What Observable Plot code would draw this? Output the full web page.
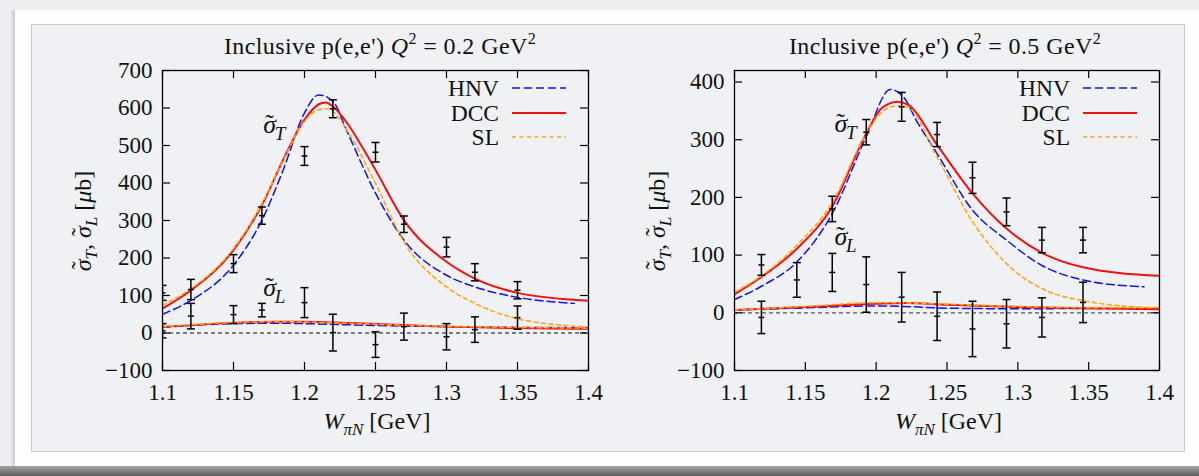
<!DOCTYPE html>
<html><head><meta charset="utf-8">
<script src="https://cdn.jsdelivr.net/npm/d3@7"></script>
<script src="https://cdn.jsdelivr.net/npm/@observablehq/plot@0.6"></script>
<style>
html,body{margin:0;padding:0;}
body{width:1199px;height:476px;background:#eeeff2;position:relative;overflow:hidden;font-family:"Liberation Serif",serif;color:#111;}
.abs{position:absolute;}
.title{font-size:24px;letter-spacing:0.4px;white-space:nowrap;transform:translate(-50%,-50%);}
.title sup{font-size:16px;vertical-align:0;position:relative;top:-10px;}
.ylab{font-size:24px;white-space:nowrap;transform:translate(-50%,-50%) rotate(-90deg);}
.xlab{font-size:24px;white-space:nowrap;transform:translate(-50%,-50%);}
sub{font-size:17px;vertical-align:0;position:relative;top:6px;}
.sig{position:relative;display:inline-block;}
.sig .tl{position:absolute;left:2px;top:-3px;font-style:normal;}
.leg{font-size:23.5px;white-space:nowrap;transform:translate(-100%,-50%);}
</style></head><body>
<div class="abs" style="left:10px;top:10px;width:6px;height:457px;background:linear-gradient(to right,#eeeff2,#c4c4c8)"></div>
<div class="abs" style="left:15px;top:10px;width:1184px;height:457px;background:#fdfdfd"></div>
<div class="abs" style="left:31px;top:24px;width:1152px;height:426px;background:#eff1f5;border:1px solid #c8c9cd"></div>
<div class="abs" style="left:0;top:466px;width:1199px;height:10px;background:linear-gradient(#a4a4a4,#5e5e5e)"></div>
<div id="root"></div>
<script>
// ---------- shared axis values ----------
const xTickValues = [1.1, 1.15, 1.2, 1.25, 1.3, 1.35, 1.4];
const xTickLabels = ["1.1", "1.15", "1.2", "1.25", "1.3", "1.35", "1.4"];
const yTicks02 = [-100, 0, 100, 200, 300, 400, 500, 600, 700];
const yTicks05 = [-100, 0, 100, 200, 300, 400];
const seriesNames = ["HNV", "DCC", "SL"];

// ---------- Q^2 = 0.2 data ----------
const W_02 = [1.10, 1.12, 1.15, 1.17, 1.20, 1.22, 1.25, 1.27, 1.30, 1.32, 1.35];
const sigT_02 = [107, 116, 185, 313, 472, 598, 482, 290, 229, 162, 114];
const errT_02 = [20, 27, 24, 23, 25, 24, 26, 22, 26, 23, 23];
const sigL_02 = [6, 45, 49, 61, 81, 1, -31, 17, -10, 9, 41];
const errL_02 = [19, 34, 24, 18, 40, 49, 34, 36, 35, 34, 31];

const W_DCC_T_02 = [1.10, 1.12, 1.15, 1.17, 1.185, 1.20, 1.21, 1.215, 1.22, 1.23, 1.24, 1.25, 1.27, 1.30, 1.32, 1.35, 1.40];
const DCC_T_02 = [65, 114, 221, 341, 462, 569, 610, 615, 604, 560, 500, 435, 301, 190, 145, 107, 86];
const W_HNV_T_02 = [1.10, 1.12, 1.15, 1.17, 1.185, 1.20, 1.21, 1.22, 1.23, 1.25, 1.27, 1.30, 1.32, 1.35, 1.39];
const HNV_T_02 = [50, 87, 181, 301, 435, 587, 635, 618, 537, 373, 248, 154, 123, 95, 79];
const W_SL_T_02 = [1.10, 1.12, 1.15, 1.17, 1.185, 1.20, 1.21, 1.215, 1.22, 1.23, 1.25, 1.27, 1.30, 1.32, 1.35, 1.40];
const SL_T_02 = [74, 118, 225, 345, 460, 565, 595, 598, 591, 540, 399, 243, 123, 79, 38, 16];
const W_L_curve_02 = [1.10, 1.15, 1.18, 1.20, 1.22, 1.25, 1.30, 1.35, 1.40];
const DCC_L_02 = [16, 27, 30, 30, 28, 24, 17, 13, 11];
const HNV_L_02 = [15, 25, 26, 25, 23, 20, 17, 15, 14];
const SL_L_02 = [17, 28, 30, 29, 27, 23, 18, 15, 13];

// ---------- Q^2 = 0.5 data ----------
const W_T_05 = [1.119, 1.169, 1.193, 1.218, 1.243, 1.268, 1.292, 1.317, 1.346];
const sigT_05 = [83, 180, 313, 357, 309, 234, 175, 126, 126];
const errT_05 = [18, 22, 22, 25, 21, 27, 24, 22, 22];
const W_L_05 = [1.119, 1.144, 1.169, 1.193, 1.218, 1.243, 1.268, 1.292, 1.317, 1.346];
const sigL_05 = [-8, 57, 70, 49, 27, -6, -28, -19, -8, 18];
const errL_05 = [28, 30, 33, 48, 43, 42, 48, 42, 34, 35];

const W_DCC_T_05 = [1.10, 1.119, 1.144, 1.169, 1.193, 1.204, 1.215, 1.223, 1.243, 1.268, 1.292, 1.317, 1.346, 1.40];
const DCC_T_05 = [32, 62, 111, 184, 311, 355, 366, 360, 291, 207, 146, 104, 79, 64];
const W_HNV_T_05 = [1.10, 1.119, 1.144, 1.169, 1.193, 1.21, 1.22, 1.228, 1.243, 1.268, 1.292, 1.317, 1.346, 1.389];
const HNV_T_05 = [23, 46, 88, 172, 305, 387, 372, 335, 276, 178, 126, 82, 57, 45];
const W_SL_T_05 = [1.10, 1.119, 1.144, 1.169, 1.193, 1.205, 1.215, 1.222, 1.243, 1.268, 1.292, 1.317, 1.346, 1.40];
const SL_T_05 = [36, 64, 117, 191, 311, 350, 359, 357, 270, 158, 85, 42, 21, 8];
const W_L_curve_05 = [1.10, 1.15, 1.20, 1.22, 1.25, 1.30, 1.35, 1.40];
const DCC_L_05 = [5, 10, 15.7, 17, 14, 10, 8, 6];
const HNV_L_05 = [5, 8.5, 12, 11, 8, 7, 7.5, 7];
const SL_L_05 = [5, 11, 17.5, 17, 15, 11, 9, 9];

// annotation labels (σ with tilde, subscript)
const annotText = ["σ_T", "σ_L"];
const annotW_02 = [1.171, 1.171];
const annotY_02 = [556, 121];
const annotW_05 = [1.1705, 1.1705];
const annotY_05 = [327, 132];

// ---------- styles ----------
const styles = {
  HNV: {stroke: "#1010f0", strokeWidth: 1.5, strokeDasharray: "8,4"},
  DCC: {stroke: "#f01010", strokeWidth: 2, strokeDasharray: null},
  SL: {stroke: "#ffa51a", strokeWidth: 1.6, strokeDasharray: "4,3.5"}
};

const zip = (xs, ys) => xs.map((x, i) => ({x, y: ys[i]}));
const pts = (xs, vs, es) => xs.map((x, i) => ({x, v: vs[i], e: es[i]}));
const hbar = (hw) => ({draw(ctx) { ctx.moveTo(-hw, 0); ctx.lineTo(hw, 0); }});
const fmtY = d => d < 0 ? "\u2212" + Math.abs(d) : String(d);
const SVGNS = "http://www.w3.org/2000/svg";
const sigHTML = `<span class="sig"><i>σ</i><span class="tl">˜</span></span>`;

function makePanel(cfg) {
  const W = 500, H = 360, mt = 10, mb = 50;
  const fw = W - cfg.ml - cfg.mr, fh = H - mt - mb;
  const line = (name, data) => Plot.line(data, {x: "x", y: "y", curve: "monotone-x", clip: true, ...styles[name]});
  const errMarks = (data) => [
    Plot.ruleX(data, {x: "x", y1: d => d.v - d.e, y2: d => d.v + d.e, stroke: "#000", strokeWidth: 1.5, clip: true}),
    Plot.dot(data, {x: "x", y: d => d.v - d.e, symbol: hbar(4), fill: "none", stroke: "#000", strokeWidth: 1.5, clip: true}),
    Plot.dot(data, {x: "x", y: d => d.v + d.e, symbol: hbar(4), fill: "none", stroke: "#000", strokeWidth: 1.5, clip: true}),
    Plot.dot(data, {x: "x", y: "v", symbol: hbar(3), fill: "none", stroke: "#000", strokeWidth: 1.5, clip: true})
  ];
  const annots = annotText.map((t, i) => ({t, x: cfg.annotW[i], y: cfg.annotY[i]}));
  const chart = Plot.plot({
    width: W, height: H, marginLeft: cfg.ml, marginRight: cfg.mr, marginTop: mt, marginBottom: mb,
    style: {fontFamily: "Liberation Serif, serif", fontSize: "23px", background: "transparent", overflow: "visible", color: "#111"},
    x: {domain: [1.1, 1.4], ticks: xTickValues, tickFormat: d => xTickLabels[xTickValues.findIndex(v => Math.abs(v - d) < 1e-9)], tickSize: 0, tickPadding: 13, label: null},
    y: {domain: cfg.yDomain, ticks: cfg.yTicks, tickFormat: fmtY, tickSize: 0, tickPadding: 10, label: null},
    marks: [
      Plot.ruleY([0], {stroke: "#555", strokeWidth: 1.3, strokeDasharray: "4,3"}),
      Plot.tickY(cfg.yTicks, {y: d => d, stroke: "#000", strokeWidth: 1.2, insetRight: fw - 8}),
      Plot.tickY(cfg.yTicks, {y: d => d, stroke: "#000", strokeWidth: 1.2, insetLeft: fw - 8}),
      Plot.tickX(xTickValues, {x: d => d, stroke: "#000", strokeWidth: 1.2, insetTop: fh - 8}),
      Plot.tickX(xTickValues, {x: d => d, stroke: "#000", strokeWidth: 1.2, insetBottom: fh - 8}),
      line("HNV", cfg.HNV_T), line("DCC", cfg.DCC_T), line("SL", cfg.SL_T),
      line("HNV", cfg.HNV_L), line("DCC", cfg.DCC_L), line("SL", cfg.SL_L),
      ...errMarks(cfg.ptsT), ...errMarks(cfg.ptsL),
      Plot.text(annots, {x: "x", y: "y", text: "t", textAnchor: "start", fontSize: 26, fontStyle: "italic", fill: "#111"}),
      Plot.frame({stroke: "#000", strokeWidth: 1.3})
    ]
  });
  // tilde + subscript in annotation labels
  chart.querySelectorAll("text").forEach(t => {
    const s = t.textContent;
    if (s.includes("_")) {
      const [a, b] = s.split("_");
      t.textContent = "";
      const t1 = document.createElementNS(SVGNS, "tspan"); t1.textContent = a;
      const t2 = document.createElementNS(SVGNS, "tspan"); t2.textContent = "˜";
      t2.setAttribute("dx", "-11"); t2.setAttribute("dy", "-1"); t2.setAttribute("font-style", "normal");
      const t3 = document.createElementNS(SVGNS, "tspan"); t3.textContent = b;
      t3.setAttribute("dx", "1"); t3.setAttribute("dy", "8"); t3.setAttribute("font-size", "19");
      t.appendChild(t1); t.appendChild(t2); t.appendChild(t3);
    }
  });
  const wrap = document.createElement("div");
  wrap.className = "abs";
  wrap.style.left = cfg.left + "px"; wrap.style.top = "60px";
  wrap.appendChild(chart);
  document.getElementById("root").appendChild(wrap);

  // title, axis labels, legend
  const add = (cls, html, x, y) => {
    const d = document.createElement("div");
    d.className = "abs " + cls; d.innerHTML = html;
    d.style.left = x + "px"; d.style.top = y + "px";
    document.getElementById("root").appendChild(d);
  };
  const fx0 = cfg.left + cfg.ml, fx1 = cfg.left + W - cfg.mr;
  add("title", `Inclusive p(e,e') <i>Q</i><sup>2</sup> = ${cfg.q2} GeV<sup>2</sup>`, cfg.titleX, 46);
  add("ylab", `${sigHTML}<sub><i>T</i></sub>, ${sigHTML}<sub><i>L</i></sub> [<i>μ</i>b]`, cfg.ylabX, 221);
  add("xlab", `<i>W</i><sub><i>πN</i></sub> [GeV]`, (fx0 + fx1) / 2 + 2, 421);
  seriesNames.forEach((n, i) => {
    const y = 88 + i * 24.5;
    add("leg", n, cfg.legTextX, y);
    const st = styles[n];
    const svg = d3.create("svg").attr("width", 56).attr("height", 6)
      .style("position", "absolute").style("left", (cfg.legTextX + 12) + "px").style("top", (y - 3) + "px");
    svg.append("line").attr("x1", 1).attr("x2", 55).attr("y1", 3).attr("y2", 3)
      .attr("stroke", st.stroke).attr("stroke-width", st.strokeWidth).attr("stroke-dasharray", st.strokeDasharray);
    document.getElementById("root").appendChild(svg.node());
  });
}

makePanel({
  left: 100, ml: 62, mr: 12, yDomain: [-100, 700], yTicks: yTicks02, q2: "0.2", titleX: 380, ylabX: 83, legTextX: 499,
  ptsT: pts(W_02, sigT_02, errT_02), ptsL: pts(W_02, sigL_02, errL_02),
  DCC_T: zip(W_DCC_T_02, DCC_T_02), HNV_T: zip(W_HNV_T_02, HNV_T_02), SL_T: zip(W_SL_T_02, SL_T_02),
  DCC_L: zip(W_L_curve_02, DCC_L_02), HNV_L: zip(W_L_curve_02, HNV_L_02), SL_L: zip(W_L_curve_02, SL_L_02),
  annotW: annotW_02, annotY: annotY_02
});
makePanel({
  left: 670, ml: 64, mr: 11, yDomain: [-100, 420], yTicks: yTicks05, q2: "0.5", titleX: 945, ylabX: 657, legTextX: 1070,
  ptsT: pts(W_T_05, sigT_05, errT_05), ptsL: pts(W_L_05, sigL_05, errL_05),
  DCC_T: zip(W_DCC_T_05, DCC_T_05), HNV_T: zip(W_HNV_T_05, HNV_T_05), SL_T: zip(W_SL_T_05, SL_T_05),
  DCC_L: zip(W_L_curve_05, DCC_L_05), HNV_L: zip(W_L_curve_05, HNV_L_05), SL_L: zip(W_L_curve_05, SL_L_05),
  annotW: annotW_05, annotY: annotY_05
});
</script>
</body></html>
